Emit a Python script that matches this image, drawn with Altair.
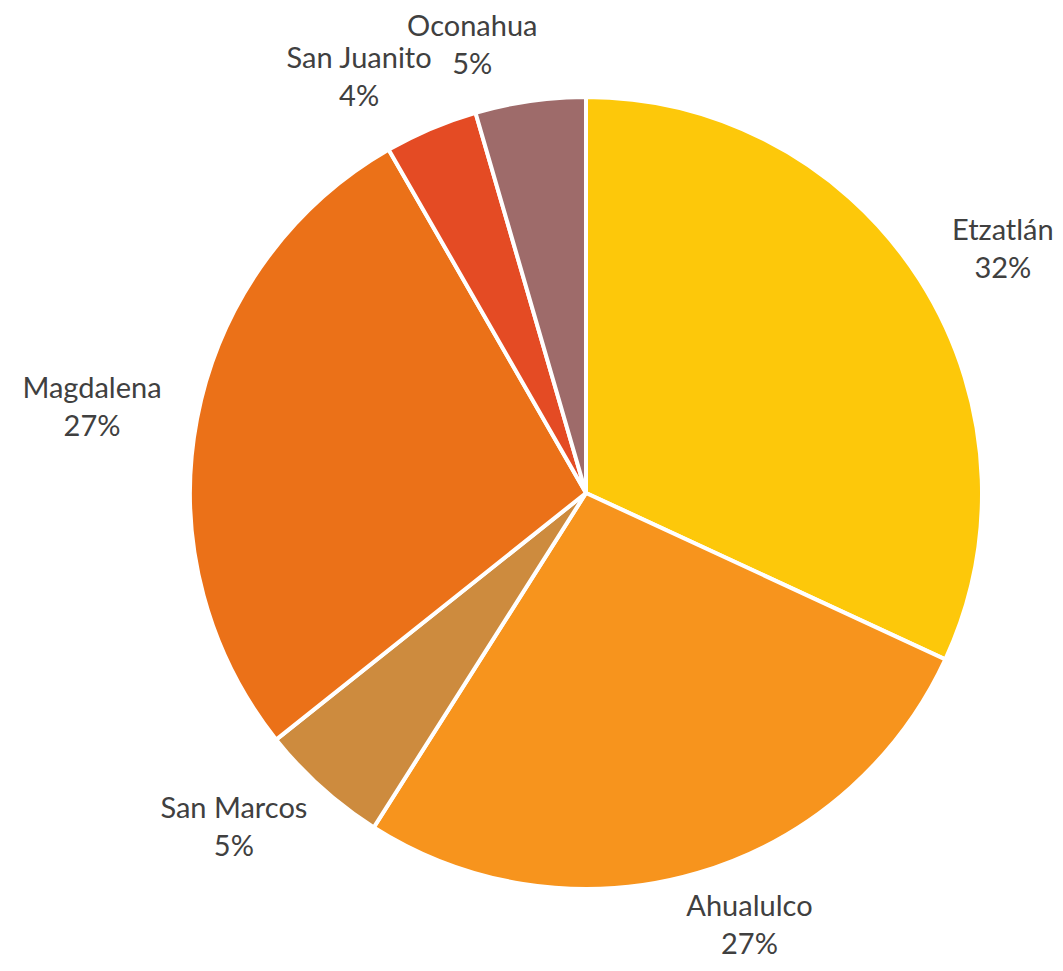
import altair as alt
import pandas as pd

categories = ["Etzatlán", "Ahualulco", "San Marcos", "Magdalena", "San Juanito", "Oconahua"]
values = [31.9, 27.1, 5.3, 27.4, 3.8, 4.5]
pct_labels = ["32%", "27%", "5%", "27%", "4%", "5%"]
colors = ["#FDC80A", "#F7941D", "#CD8B3E", "#EB7118", "#E44B24", "#9E6B6A"]

df = pd.DataFrame({
    "cat": categories,
    "val": values,
    "order": list(range(len(categories))),
    "pct": pct_labels,
})

cx, cy = 578, 485          # pie centre inside the view
R = 396                    # pie radius
FS = 29                    # label font size
LH = 38                    # label line height
A = 452                    # horizontal label distance
C_RIGHT = 36               # extra horizontal push, right half
C_LEFT = 50                # extra horizontal push, left half
B = 451                    # vertical label distance

arcs = alt.Chart(df).mark_arc(outerRadius=R, stroke="white", strokeWidth=4).encode(
    theta=alt.Theta("val:Q", stack=True),
    order=alt.Order("order:Q"),
    x=alt.value(cx),
    y=alt.value(cy),
    color=alt.Color("cat:N", scale=alt.Scale(domain=categories, range=colors), legend=None),
)

texts = alt.Chart(df).transform_joinaggregate(
    total="sum(val)"
).transform_window(
    cum="sum(val)", sort=[alt.SortField("order")], frame=[None, 0]
).transform_calculate(
    mid="2*PI*(datum.cum - datum.val/2)/datum.total",
    label="datum.cat + '\\n' + datum.pct",
).transform_calculate(
    lx=f"{cx} + sin(datum.mid)*{A} + (sin(datum.mid) >= 0 ? {C_RIGHT} : -{C_LEFT})",
    ly=f"{cy} - cos(datum.mid)*{B} - {LH}/2",
).mark_text(
    fontSize=FS, font="Lato", color="#404040", lineBreak="\n",
    align="center", baseline="middle", lineHeight=LH,
).encode(
    x=alt.X("lx:Q", scale=None, axis=None),
    y=alt.Y("ly:Q", scale=None, axis=None),
    text="label:N",
)

chart = (arcs + texts).properties(
    width=1047, height=955, autosize="none", padding=0
).configure_view(stroke=None)

chart.save("out.html", embed_options={"renderer": "svg", "actions": False})
